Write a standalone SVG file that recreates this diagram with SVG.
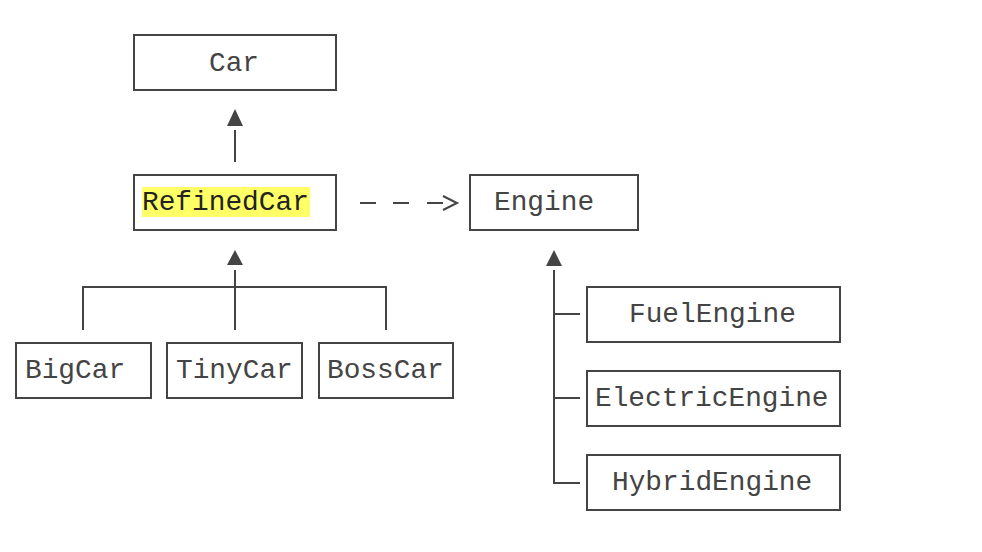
<svg xmlns="http://www.w3.org/2000/svg" width="982" height="552" viewBox="0 0 982 552">
<style>
.box{fill:#fff;stroke:#444;stroke-width:2}
.lbl{font-family:"Liberation Mono","Courier New",monospace;font-size:27.8px;fill:#444}
.ln{fill:none;stroke:#444;stroke-width:2}
.head{fill:#444}
</style>
<rect width="982" height="552" fill="#fff"/>
<g id="connectors">
<line class="ln" x1="235" y1="130" x2="235" y2="162"/>
<polygon class="head" points="235,109 227,126 243,126"/>
<path class="ln" d="M360,203H376M393,203H409M427,203H443"/>
<polyline class="ln" points="443,196 457,203 443,210"/>
<polygon class="head" points="235,250 227,265 243,265"/>
<line class="ln" x1="235" y1="270" x2="235" y2="330"/>
<polyline class="ln" points="83,330 83,287 386,287 386,330"/>
<polygon class="head" points="554,250 546,266 562,266"/>
<polyline class="ln" points="554,270 554,483 580,483"/>
<line class="ln" x1="554" y1="314" x2="580" y2="314"/>
<line class="ln" x1="554" y1="398" x2="580" y2="398"/>
</g>
<g id="car"><rect class="box" x="134" y="35" width="202" height="55"/><text class="lbl" x="209" y="71">Car</text></g>
<g id="refinedcar"><rect class="box" x="134" y="175" width="202" height="55"/><rect x="142" y="187" width="168" height="30" fill="#ffff66"/><text class="lbl" x="142" y="210" style="fill:#222">RefinedCar</text></g>
<g id="engine"><rect class="box" x="470" y="175" width="168" height="55"/><text class="lbl" x="494" y="210">Engine</text></g>
<g id="bigcar"><rect class="box" x="16" y="343" width="135" height="55"/><text class="lbl" x="25" y="378">BigCar</text></g>
<g id="tinycar"><rect class="box" x="167" y="343" width="135" height="55"/><text class="lbl" x="176" y="378">TinyCar</text></g>
<g id="bosscar"><rect class="box" x="319" y="343" width="134" height="55"/><text class="lbl" x="327" y="378">BossCar</text></g>
<g id="fuelengine"><rect class="box" x="587" y="287" width="253" height="55"/><text class="lbl" x="629" y="322">FuelEngine</text></g>
<g id="electricengine"><rect class="box" x="587" y="371" width="253" height="55"/><text class="lbl" x="595" y="406">ElectricEngine</text></g>
<g id="hybridengine"><rect class="box" x="587" y="455" width="253" height="55"/><text class="lbl" x="612" y="490">HybridEngine</text></g>
</svg>
